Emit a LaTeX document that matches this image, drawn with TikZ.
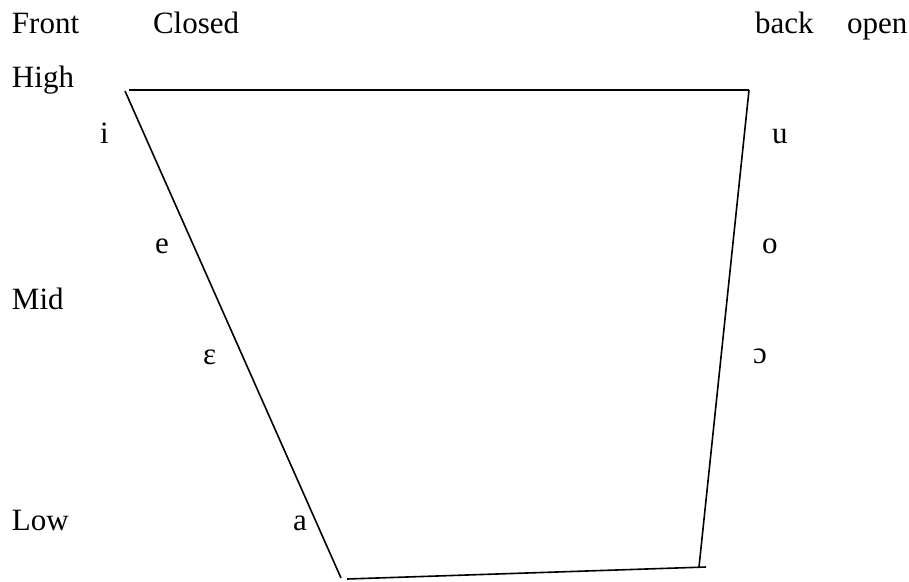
\documentclass[tikz,border=0pt]{standalone}
\usepackage{fontspec}
\setmainfont{Liberation Serif}
\begin{document}
\begin{tikzpicture}[x=1pt,y=-1pt,
  lbl/.style={anchor=base west,inner sep=0pt,outer sep=0pt,font=\fontsize{31}{37}\selectfont},
  edge/.style={line width=1.6pt,line cap=butt}]
\useasboundingbox[fill=white] (0,0) rectangle (909,581);
% labels
\node[lbl] (front) at (12,33) {Front};
\node[lbl] (closed) at (153,33) {Closed};
\node[lbl] (back) at (755,33) {back};
\node[lbl] (open) at (847,33) {open};
\node[lbl] (high) at (12,87) {High};
\node[lbl] (mid) at (12,309) {Mid};
\node[lbl] (low) at (12,530) {Low};
\node[lbl] (vi) at (100,143) {i};
\node[lbl] (vu) at (772,143) {u};
\node[lbl] (ve) at (155,253) {e};
\node[lbl] (vo) at (762,253) {o};
\node[lbl] (veps) at (203,364) {ε};
\node[lbl] (vopen) at (753,363) {ɔ};
\node[lbl] (va) at (293,530) {a};
% corners
\coordinate (tl) at (125,91);
\coordinate (tls) at (129,90);
\coordinate (tr) at (749,90);
\coordinate (bl) at (341,578);
\coordinate (bls) at (347,579);
\coordinate (br) at (699,567);
\coordinate (bre) at (706,567);
% edges
\draw[edge] (tls) -- (tr);
\draw[edge] (tl) -- (bl);
\draw[edge] (bls) -- (bre);
\draw[edge] (tr) -- (br);
\end{tikzpicture}
\end{document}
